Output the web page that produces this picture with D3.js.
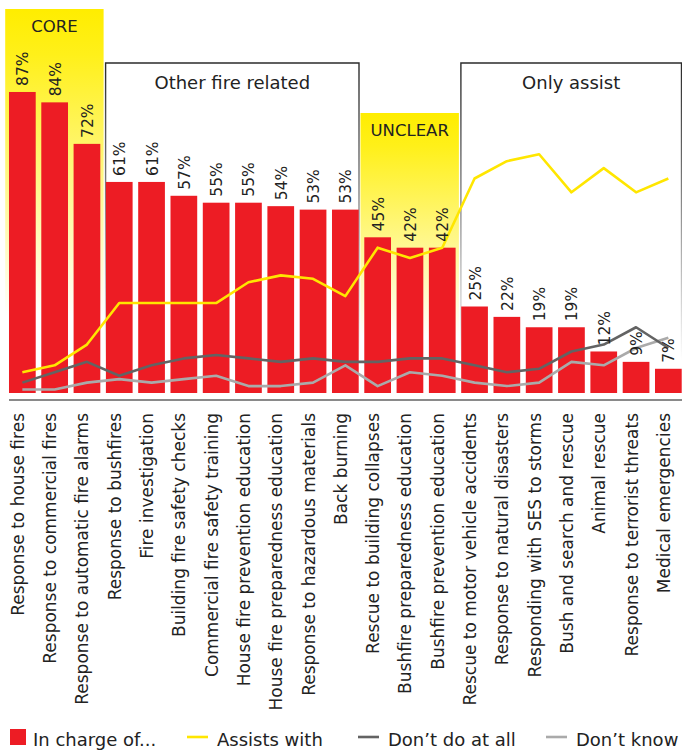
<!DOCTYPE html>
<html>
<head>
<meta charset="utf-8">
<script src="https://cdn.jsdelivr.net/npm/d3@7"></script>
<style>
  html, body { margin: 0; padding: 0; background: #fff; }
  svg { display: block; }
  text { font-family: "DejaVu Sans", sans-serif; fill: #222; }
</style>
</head>
<body>
<svg id="chart" width="682" height="751"></svg>
<script>
const categories = [
  "Response to house fires", "Response to commercial fires", "Response to automatic fire alarms",
  "Response to bushfires", "Fire investigation", "Building fire safety checks",
  "Commercial fire safety training", "House fire prevention education", "House fire preparedness education",
  "Response to hazardous materials", "Back burning", "Rescue to building collapses",
  "Bushfire preparedness education", "Bushfire prevention education", "Rescue to motor vehicle accidents",
  "Response to natural disasters", "Responding with SES to storms", "Bush and search and rescue",
  "Animal rescue", "Response to terrorist threats", "Medical emergencies"
];
const inChargeOf = [87, 84, 72, 61, 61, 57, 55, 55, 54, 53, 53, 45, 42, 42, 25, 22, 19, 19, 12, 9, 7];
const assistsWith = [6, 8, 14, 26, 26, 26, 26, 32, 34, 33, 28, 42, 39, 42, 62, 67, 69, 58, 65, 58, 62];
const dontDoAtAll = [3, 6, 9, 5, 8, 10, 11, 10, 9, 10, 9, 9, 10, 10, 8, 6, 7, 12, 14, 19, 13];
const dontKnow = [1, 1, 3, 4, 3, 4, 5, 2, 2, 3, 8, 2, 6, 5, 3, 2, 3, 9, 8, 13, 16];

const groups = [
  { label: "CORE", from: 0, to: 2, kind: "fill" },
  { label: "Other fire related", from: 3, to: 10, kind: "outline" },
  { label: "UNCLEAR", from: 11, to: 13, kind: "fill" },
  { label: "Only assist", from: 14, to: 20, kind: "outline" }
];

const legendItems = [
  { label: "In charge of...", type: "bar", color: "#ED1C24" },
  { label: "Assists with", type: "line", color: "#FFE600" },
  { label: "Don\u2019t do at all", type: "line", color: "#636363" },
  { label: "Don\u2019t know", type: "line", color: "#AAAAAA" }
];

const svg = d3.select("#chart");
const defs = svg.append("defs");

const fillGrad = defs.append("linearGradient").attr("id", "yellowFade")
  .attr("x1", 0).attr("y1", 0).attr("x2", 0).attr("y2", 1);
fillGrad.append("stop").attr("offset", 0).attr("stop-color", "#FFED00");
fillGrad.append("stop").attr("offset", 0.12).attr("stop-color", "#FFF01A");
fillGrad.append("stop").attr("offset", 0.8).attr("stop-color", "#FFFFFF");

const strokeGrad = defs.append("linearGradient").attr("id", "grayFade")
  .attr("x1", 0).attr("y1", 0).attr("x2", 0).attr("y2", 1);
strokeGrad.append("stop").attr("offset", 0).attr("stop-color", "#2a2a2a");
strokeGrad.append("stop").attr("offset", 0.35).attr("stop-color", "#777");
strokeGrad.append("stop").attr("offset", 0.9).attr("stop-color", "#FFFFFF");

const x = d3.scaleBand().domain(d3.range(categories.length))
  .range([6.2, 684.5]).paddingInner(0.173).paddingOuter(0.0865);
const y = d3.scaleLinear().domain([0, 100]).range([393, 47]);
const step = x.step();
const slotStart = i => x(i) - (step - x.bandwidth()) / 2;
const slotEnd = i => slotStart(i) + step;
const cx = i => x(i) + x.bandwidth() / 2;

// group backgrounds
const groupTops = { "CORE": 9, "Other fire related": 63, "UNCLEAR": 113, "Only assist": 63 };
const labelBase = { "CORE": 32, "Other fire related": 89, "UNCLEAR": 136, "Only assist": 89 };
groups.forEach(g => {
  const top = groupTops[g.label];
  if (g.kind === "fill") {
    const x0 = slotStart(g.from) - 1, x1 = slotEnd(g.to) + 0.5;
    svg.append("rect").attr("x", x0).attr("y", top)
      .attr("width", x1 - x0).attr("height", y(0) - top)
      .attr("fill", "url(#yellowFade)");
    svg.append("text").attr("x", (x0 + x1) / 2).attr("y", labelBase[g.label])
      .attr("text-anchor", "middle").attr("font-size", 16.5).text(g.label);
  } else {
    const x0 = slotStart(g.from) + 2.5, x1 = Math.min(slotEnd(g.to) - 2.5, 681.5);
    svg.append("path")
      .attr("d", `M${x0},${y(0)} L${x0},${top} L${x1},${top} L${x1},${y(0)}`)
      .attr("fill", "none").attr("stroke", "url(#grayFade)").attr("stroke-width", 1.4);
    svg.append("text").attr("x", (x0 + x1) / 2).attr("y", labelBase[g.label])
      .attr("text-anchor", "middle").attr("font-size", 18).text(g.label);
  }
});

// bars
svg.append("g").selectAll("rect").data(inChargeOf).join("rect")
  .attr("x", (d, i) => x(i)).attr("width", x.bandwidth())
  .attr("y", d => y(d)).attr("height", d => y(0) - y(d))
  .attr("fill", "#ED1C24");

// lines
const lineGen = d3.line().x((d, i) => cx(i)).y(d => y(d));
[[dontKnow, "#AAAAAA"], [dontDoAtAll, "#636363"], [assistsWith, "#FFE600"]].forEach(([data, color]) => {
  svg.append("path").datum(data).attr("d", lineGen)
    .attr("fill", "none").attr("stroke", color).attr("stroke-width", 2.6)
    .attr("stroke-linejoin", "round");
});

// value labels
svg.append("g").selectAll("text").data(inChargeOf).join("text")
  .attr("transform", (d, i) => `translate(${cx(i) + 6},${y(d) - 6}) rotate(-90)`)
  .attr("text-anchor", "start").attr("font-size", 15.5)
  .text(d => d + "%");

// axis baseline
svg.append("line").attr("x1", 9).attr("x2", 682).attr("y1", 400).attr("y2", 400)
  .attr("stroke", "#8a8a8a").attr("stroke-width", 2);

// category labels
svg.append("g").selectAll("text").data(categories).join("text")
  .attr("transform", (d, i) => `translate(${cx(i) + 1.5},413) rotate(-90)`)
  .attr("text-anchor", "end").attr("font-size", 17)
  .text(d => d);

// legend
const legendX = [10, 187, 358, 546];
const legend = svg.append("g");
legendItems.forEach((item, k) => {
  const lx = legendX[k];
  if (item.type === "bar") {
    legend.append("rect").attr("x", lx).attr("y", 729).attr("width", 16).attr("height", 16)
      .attr("fill", item.color);
    legend.append("text").attr("x", lx + 23).attr("y", 746).attr("font-size", 18).text(item.label);
  } else {
    legend.append("line").attr("x1", lx).attr("x2", lx + 21).attr("y1", 737).attr("y2", 737)
      .attr("stroke", item.color).attr("stroke-width", 2.6);
    legend.append("text").attr("x", lx + 30).attr("y", 746).attr("font-size", 18).text(item.label);
  }
});
</script>
</body>
</html>
